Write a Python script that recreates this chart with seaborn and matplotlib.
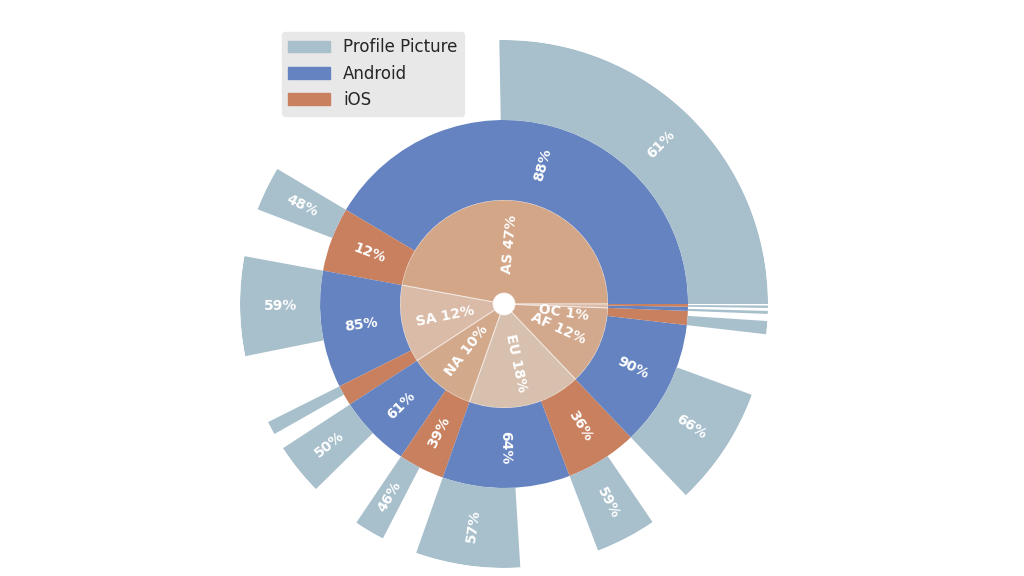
import numpy as np
import matplotlib.pyplot as plt
import matplotlib.patches as mpatches
import seaborn as sns

# continent share of all users (%), in drawing order (counter-clockwise from east)
continents = ["AS", "SA", "NA", "EU", "AF", "OC"]
continent_pct = [47.1, 12.1, 10.4, 17.5, 12.3, 0.6]
# Android share inside each continent (%), iOS is the rest
android_pct = [88, 85, 61, 64, 90, 60]
# share of users with a profile picture inside each platform segment (%)
profile_android_pct = [61, 59, 50, 57, 66, 50]
profile_ios_pct = [48, 45, 46, 59, 65, 60]

inner_colors = ["#d3a688", "#dabba7", "#d3a98c", "#d8c0ae", "#d2a98d", "#dabba7"]
c_profile = "#a8bfcc"
c_android = "#6583c0"
c_ios = "#c8805f"

sns.set_theme(style="white")
plt.rcParams["font.family"] = ["DejaVu Sans"]

fig = plt.figure(figsize=(10.24, 5.76), dpi=100)
ax = fig.add_axes([0.2344, 0.0139, 0.5156, 0.9167], projection="polar")

# ring radii
R0, R1, R2, R3 = 11, 104, 184, 264
edge = (1, 1, 1, 0.5)


def put_label(theta_deg, r, text):
    rot = theta_deg
    if 90 < theta_deg <= 270:
        rot = theta_deg - 180
    elif theta_deg > 270:
        rot = theta_deg - 360
    ax.text(np.deg2rad(theta_deg), r, text, rotation=rot, rotation_mode="anchor",
            ha="center", va="center", color="white", fontsize=10, fontweight="bold")


# small nudge so the tiny OC label does not sit on the AS edge
label_shift = {"OC": -7}

start = 0.0
for i, cont in enumerate(continents):
    w = continent_pct[i] / 100 * 360
    ax.bar(np.deg2rad(start), R1 - R0, width=np.deg2rad(w), bottom=R0, align="edge",
           color=inner_colors[i], edgecolor=edge, linewidth=0.8)

    segs = [(android_pct[i], c_android, profile_android_pct[i]),
            (100 - android_pct[i], c_ios, profile_ios_pct[i])]
    s = start
    for pct, col, prof in segs:
        sw = w * pct / 100
        ax.bar(np.deg2rad(s), R2 - R1, width=np.deg2rad(sw), bottom=R1, align="edge",
               color=col, linewidth=0)
        if sw >= 8:
            put_label(s + sw / 2, (R1 + R2) / 2, f"{pct}%")
        pw = sw * prof / 100
        ax.bar(np.deg2rad(s), R3 - R2, width=np.deg2rad(pw), bottom=R2, align="edge",
               color=c_profile, linewidth=0)
        if pw >= 5:
            put_label(s + pw / 2, (R2 + R3) / 2, f"{prof}%")
        s += sw

    put_label(start + w / 2 + label_shift.get(cont, 0), 60, f"{cont} {continent_pct[i]:.0f}%")
    start += w

ax.set_ylim(0, R3)
ax.set_axis_off()

handles = [mpatches.Patch(color=c_profile, label="Profile Picture"),
           mpatches.Patch(color=c_android, label="Android"),
           mpatches.Patch(color=c_ios, label="iOS")]
fig.legend(handles=handles, loc="upper left", bbox_to_anchor=(0.275, 0.945),
           fontsize=12, frameon=True, facecolor="#e8e8e8", edgecolor="#e8e8e8",
           framealpha=1, borderaxespad=0, handlelength=2.5)

fig.savefig("out.png", dpi=100)
